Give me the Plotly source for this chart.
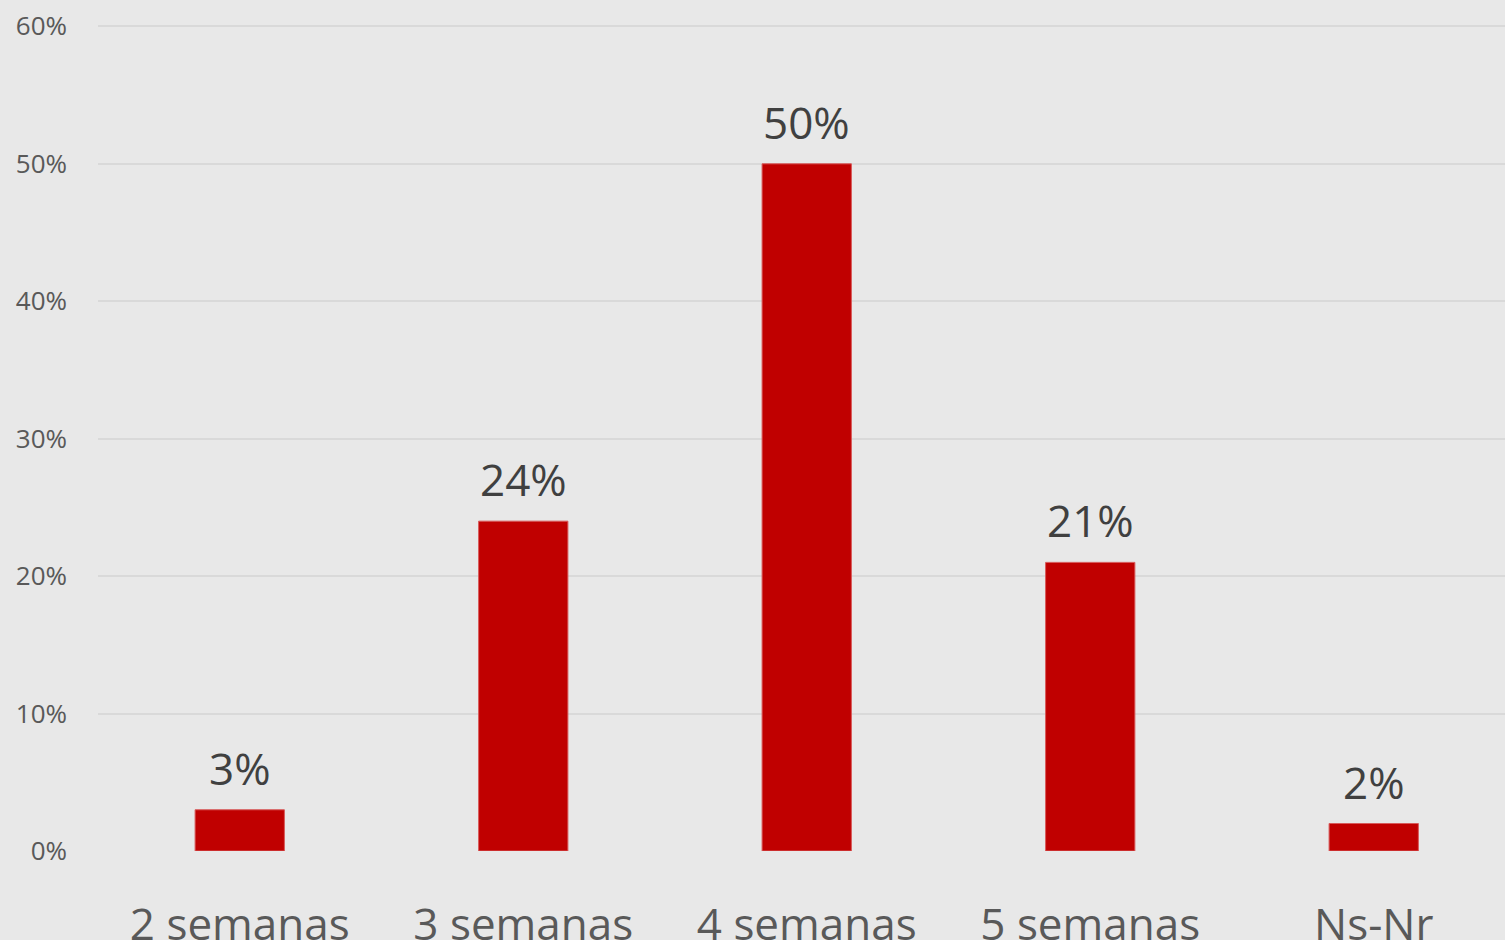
import plotly.graph_objects as go

categorias = ["2 semanas", "3 semanas", "4 semanas", "5 semanas", "Ns-Nr"]
valores = [0.03, 0.24, 0.50, 0.21, 0.02]
etiquetas = ["3%", "24%", "50%", "21%", "2%"]

FONT = "Open Sans"

fig = go.Figure()
fig.add_trace(go.Bar(
    x=categorias, y=valores,
    marker=dict(color="#c00000", line=dict(color="#d85a5a", width=1)),
    width=0.315,
    hoverinfo="skip",
))

for cat, val, lab in zip(categorias, valores, etiquetas):
    fig.add_annotation(
        x=cat, y=val, text=lab, showarrow=False,
        yanchor="bottom", yshift=10,
        font=dict(family=FONT, size=44, color="#404040"),
    )

fig.update_xaxes(
    range=[-0.5, 4.463], automargin=False,
    showgrid=False, zeroline=False, showline=False,
    ticks="", ticklabelstandoff=44,
    tickfont=dict(family=FONT, size=44, color="#595959"),
)
fig.update_yaxes(
    range=[0, 0.601], dtick=0.1, tickformat=".0%", automargin=False,
    showgrid=True, gridcolor="#d9d9d9", gridwidth=1.5,
    zeroline=False, showline=False, ticks="",
    ticklabelstandoff=30,
    tickfont=dict(family=FONT, size=26, color="#595959"),
)
fig.update_layout(
    width=1505, height=940,
    margin=dict(l=98, r=0, t=25, b=89),
    paper_bgcolor="#e8e8e8", plot_bgcolor="#e8e8e8",
    showlegend=False,
    font=dict(family=FONT),
)

fig.write_html("out.html", config={"displayModeBar": False},
               post_script="document.body.style.margin='0';")
